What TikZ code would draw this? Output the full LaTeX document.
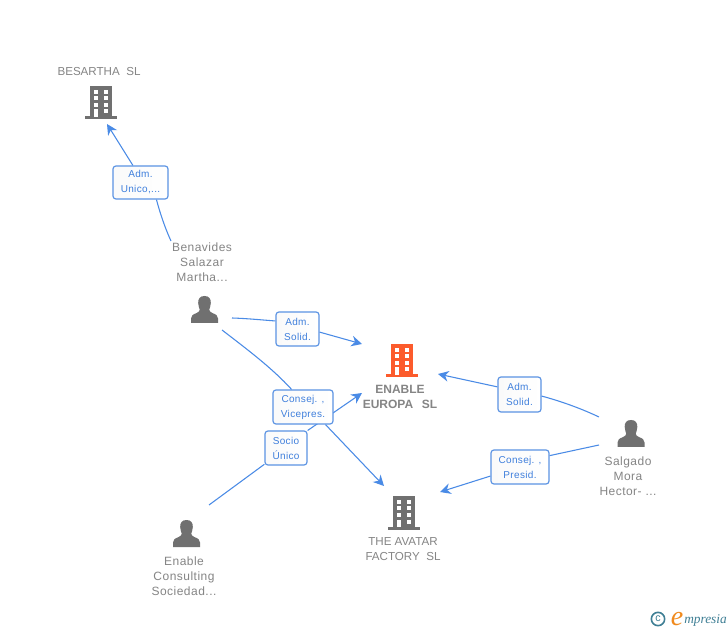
\documentclass[tikz,border=0pt]{standalone}
\usepackage{fontspec}
\setmainfont{Liberation Sans}
\newfontfamily\logofont{Liberation Serif}
\usetikzlibrary{arrows.meta}
\definecolor{edgeblue}{HTML}{4A8BE6}
\definecolor{boxblue}{HTML}{5B93E3}
\definecolor{labelblue}{HTML}{3F7FDC}
\definecolor{icongray}{HTML}{707070}
\definecolor{textgray}{HTML}{858585}
\definecolor{hotorange}{HTML}{FC5B2C}
\definecolor{logoteal}{HTML}{3F7F95}
\definecolor{logoorange}{HTML}{F08A1E}
\tikzset{
  edge/.style={draw=edgeblue,line width=.8pt},
  arrowedge/.style={edge,-{Stealth[length=8pt,width=8pt,inset=2.6pt]}},
  relbox/.style={draw=boxblue,line width=.9pt,rounded corners=2.2pt,left color=white!98!black,right color=white,
    font=\fontsize{7.5pt}{11.25pt}\selectfont\addfontfeature{LetterSpace=3.5},text=labelblue,align=center,inner sep=0pt},
  caption/.style={font=\fontsize{8.7pt}{11.25pt}\selectfont,text=textgray,align=center,inner sep=0pt},
  personcaption/.style={font=\fontsize{9pt}{11.25pt}\selectfont\addfontfeature{LetterSpace=4},text=textgray,align=center,inner sep=0pt},
  pics/building/.style={code={
    \fill[#1] (-11,-15.5) rectangle (11,15.5);
    \fill[#1] (-16,15) rectangle (16,18);
    \foreach \yy in {-11.5,-5,1.5} {
      \fill[white] (-6.8,\yy) rectangle (-2.8,\yy+3.7);
      \fill[white] (2.6,\yy) rectangle (6.8,\yy+3.7);
    }
    \fill[white] (-6.8,8) rectangle (-2.8,15.5);
    \fill[white] (2.6,8) rectangle (6.8,12);
  }},
  pics/person/.style={code={
    \fill[icongray] (0,-13.5) .. controls (-4.6,-13.5) and (-6.6,-10.5) .. (-6.3,-6.5)
      .. controls (-6,-3.5) and (-5.4,-1.5) .. (-4.8,0)
      .. controls (-4.8,1.5) and (-5.5,2.5) .. (-8,3.6)
      .. controls (-11.5,5) and (-13.5,6) .. (-13.5,9)
      -- (-13.5,13.5) -- (13.5,13.5) -- (13.5,9)
      .. controls (13.5,6) and (11.5,5) .. (8,3.6)
      .. controls (5.5,2.5) and (4.8,1.5) .. (4.8,0)
      .. controls (5.4,-1.5) and (6,-3.5) .. (6.3,-6.5)
      .. controls (6.6,-10.5) and (4.6,-13.5) .. (0,-13.5) -- cycle;
  }},
}
\begin{document}
\begin{tikzpicture}[x=.75pt,y=-.75pt]
\useasboundingbox[fill=white] (0,0) rectangle (728,630);

% icons
\pic at (101,101.5) {building=icongray};
\pic at (402,359.5) {building=hotorange};
\pic at (404,511.5) {building=icongray};
\pic at (204.5,309.5) {person};
\pic at (631,433.5) {person};
\pic at (186.5,533.5) {person};

% captions
\node[caption] (besartha) at (99,71.5) {BESARTHA\ \ SL};
\node[personcaption] (benavides) at (202,262) {Benavides\\Salazar\\Martha...};
\node[caption,font=\fontsize{9pt}{11.25pt}\selectfont\bfseries] (enable) at (400,396.5) {ENABLE\\EUROPA\ \ \,SL};
\node[caption] (avatar) at (403,549) {THE AVATAR\\FACTORY\ \ SL};
\node[personcaption] (salgado) at (628,476) {Salgado\\Mora\\Hector- ...};
\node[personcaption] (consulting) at (184,576) {Enable\\Consulting\\Sociedad...};

% free ends of the connectors
\coordinate (e1a) at (171,241);
\coordinate (e1b) at (107,124);
\coordinate (e2a) at (232,318);
\coordinate (e2b) at (362,344);
\coordinate (e3a) at (222,330);
\coordinate (e3b) at (384,486);
\coordinate (e4a) at (209,505);
\coordinate (e4b) at (362,393);
\coordinate (e5a) at (599,417);
\coordinate (e5b) at (438,374);
\coordinate (e6a) at (599,445);
\coordinate (e6b) at (440,492);

% relation labels
\node[relbox,minimum width=55pt*.75,minimum height=33pt*.75] (adm1) at (140.5,182.5) {Adm.\\Unico,...};
\node[relbox,minimum width=43pt*.75,minimum height=34pt*.75] (adm2) at (297.5,329) {Adm.\\Solid.};
\node[relbox,minimum width=42pt*.75,minimum height=34pt*.75] (socio) at (286,448) {Socio\\Único};

% connectors
\draw[edge] (e1a) .. controls (165,228) and (160,213) .. (adm1.-47);
\draw[arrowedge] (adm1.114) -- (e1b);
\draw[edge] (e2a) .. controls (248,318.5) and (262,320) .. (adm2.160);
\draw[arrowedge] (adm2.-8) -- (e2b);
\draw[edge] (e4a) -- (socio.217);
\draw[arrowedge] (socio.39) -- (e4b);
\node[relbox,minimum width=60pt*.75,minimum height=34pt*.75] (cons1) at (303,407) {Consej. ,\\Vicepres.};
\draw[edge] (e3a) .. controls (248,350) and (272,368) .. (cons1.123);
\draw[arrowedge] (cons1.-38) -- (e3b);
\node[relbox,minimum width=43pt*.75,minimum height=35pt*.75] (adm3) at (519.5,394.5) {Adm.\\Solid.};
\node[relbox,minimum width=58pt*.75,minimum height=34pt*.75] (cons2) at (520,467) {Consej. ,\\Presid.};
\draw[edge] (e5a) .. controls (580,408) and (560,401) .. (adm3.-4);
\draw[arrowedge] (adm3.161) -- (e5b);
\draw[edge] (e6a) -- (cons2.21);
\draw[arrowedge] (cons2.197) -- (e6b);

% logo
\node[circle,draw=logoteal,line width=1.2pt,minimum size=10pt,inner sep=0pt,text=logoteal,font=\fontsize{8pt}{8pt}\selectfont] (copyr) at (658,619) {c};
\node[inner sep=0pt,text=logoorange,font=\logofont\itshape\fontsize{21pt}{21pt}\selectfont] (logoe) at (677,619) {e};
\node[inner sep=0pt,text=logoteal,font=\logofont\itshape\fontsize{10pt}{10pt}\selectfont,anchor=base west] (logot) at (684,623) {mpresia};
\end{tikzpicture}
\end{document}
